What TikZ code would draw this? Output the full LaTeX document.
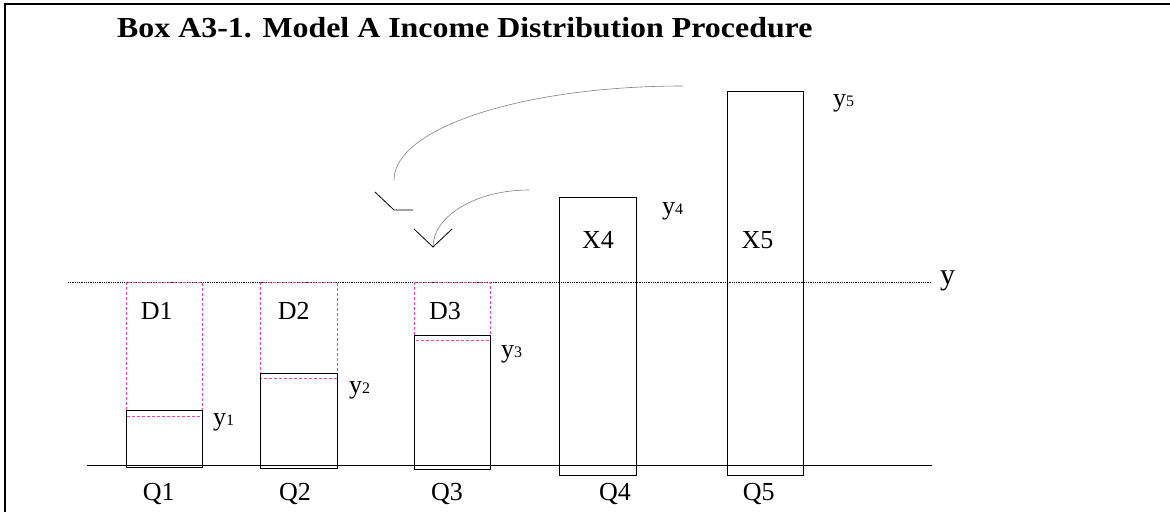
\documentclass[tikz,border=0pt]{standalone}
\usepackage{graphicx}
\usepackage{fontspec}
\setmainfont{Liberation Serif}
\usepackage{tikz}

% y with a small index digit
\newcommand{\ysub}[1]{y{\fontsize{16}{16}\selectfont #1}}

\begin{document}
\begin{tikzpicture}[x=1pt, y=-1pt,
  lbl/.style={anchor=base, inner sep=0pt, font=\fontsize{26}{28}\selectfont},
  ylbl/.style={lbl, anchor=base west},
  bar/.style={draw=black, line width=0.8pt},
  gap/.style={draw=magenta!75, densely dashed, line width=0.6pt},
  flow/.style={draw=gray, line width=0.6pt},
  tip/.style={draw=black, line width=0.8pt}]
\useasboundingbox (0,0) rectangle (1170,512);
\draw[line width=2pt] (5,512) -- (5,4) -- (1170,4);
\node[anchor=base west, inner sep=0pt, font=\bfseries\fontsize{29}{31}\selectfont] (title) at (117,37)
   {\scalebox{1.1}[1]{Box A3-1. Model A Income Distribution Procedure}};

% average line and axis
\coordinate (avgL) at (68,282); \coordinate (avgR) at (932,282);
\coordinate (axL) at (87,465); \coordinate (axR) at (932,465);
\draw[densely dotted, line width=0.8pt] (avgL) -- (avgR);
\node[ylbl, font=\fontsize{30}{32}\selectfont] (ybar) at (940,284) {y};

% deficits up to the average
\draw[gap] (126,282) rectangle (202,416);
\draw[gap] (260,282) rectangle (337,378);
\draw[gap] (414,282) rectangle (490,340);

% quintile bars
\draw[bar] (126,410) rectangle (202,467);
\draw[bar] (260,373) rectangle (337,468);
\draw[bar] (414,335) rectangle (490,469);
\draw[bar] (559,197) rectangle (636,475);
\draw[bar] (727,91) rectangle (803,475);
\draw[line width=0.8pt] (axL) -- (axR);

\node[lbl] (d1) at (156.7,319) {D1};
\node[lbl] (d2) at (293.7,319) {D2};
\node[lbl] (d3) at (445,319) {D3};
\node[lbl] (x4) at (598,248) {X4};
\node[lbl] (x5) at (757.5,248) {X5};

\node[ylbl] (y1) at (213,425) {\ysub{1}};
\node[ylbl] (y2) at (349,393) {\ysub{2}};
\node[ylbl] (y3) at (501,357) {\ysub{3}};
\node[ylbl] (y4) at (662,214) {\ysub{4}};
\node[ylbl] (y5) at (833,106) {\ysub{5}};

\node[lbl] (q1) at (158.7,500) {Q1};
\node[lbl] (q2) at (295,500) {Q2};
\node[lbl] (q3) at (447,500) {Q3};
\node[lbl] (q4) at (615,500) {Q4};
\node[lbl] (q5) at (758.7,500) {Q5};

% transfers from the top
\coordinate (fromQ5) at (683,86); \coordinate (toD2) at (394,180);
\coordinate (fromQ4) at (529,190); \coordinate (toD3) at (433,247);
\draw[flow] (fromQ5) .. controls (523,86) and (394,128) .. (toD2);
\draw[tip] (375,192) -- (394,210) -- (413,210);
\draw[flow] (fromQ4) .. controls (476,190) and (433,216) .. (toD3);
\draw[tip] (414,229) -- (toD3) -- (452,229);
\end{tikzpicture}
\end{document}
